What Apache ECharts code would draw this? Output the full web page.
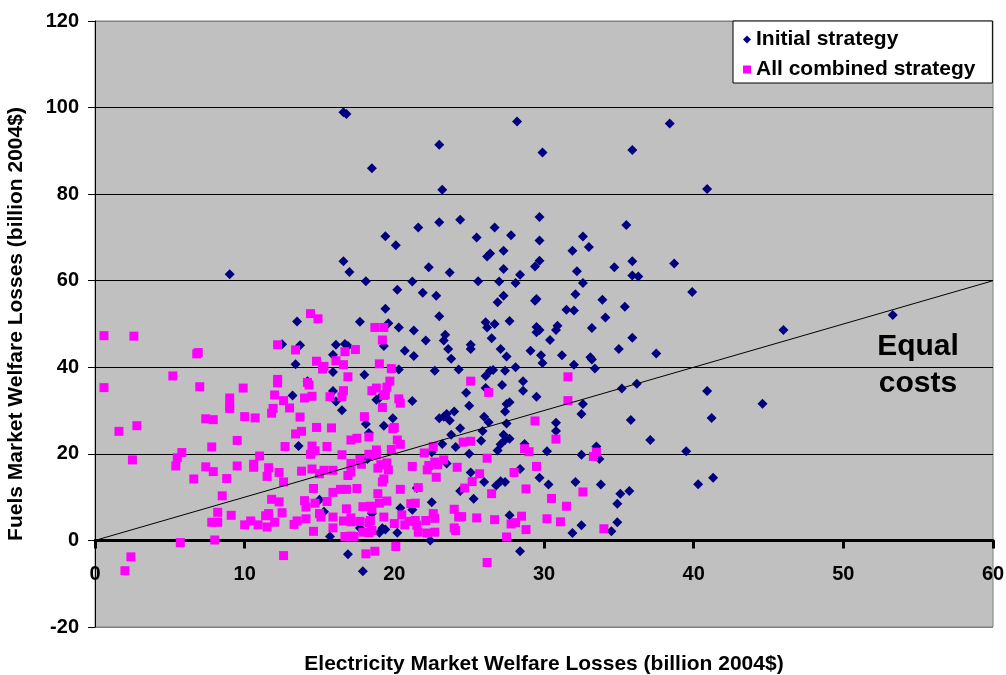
<!DOCTYPE html>
<html>
<head>
<meta charset="utf-8">
<title>Welfare losses</title>
<script src="https://cdn.jsdelivr.net/npm/echarts/dist/echarts.min.js"></script>
<style>
    html, body { margin: 0; padding: 0; background: #fff; }
    #chart { width: 1006px; height: 675px; }
</style>
</head>
<body>
<div id="chart"></div>
<script>
    // [electricity losses, fuels losses], billion 2004$
    var initialStrategy = [
        [16.6,98.9],[16.8,98.5],[18.5,86.0],[19.4,70.3],[20.1,68.2],[16.6,64.5],[17.0,62.0],[18.1,59.9],[9.0,61.5],[20.2,57.9],
        [28.2,96.8],[23.0,91.4],[29.9,89.6],[23.2,81.0],[29.7,74.7],[21.6,72.3],[23.0,73.5],[24.4,74.1],[25.5,70.0],[26.7,72.3],
        [27.8,70.5],[29.7,69.3],[27.3,66.9],[26.2,65.6],[26.4,66.3],[22.3,63.1],[23.7,61.9],[27.3,62.7],[28.4,61.4],[29.4,63.3],
        [29.7,64.6],[31.9,66.9],[32.6,70.2],[33.0,67.8],[32.2,62.2],[32.6,59.5],[21.2,59.8],[25.6,59.9],[27.0,59.8],[28.1,59.5],
        [38.4,96.3],[35.9,90.2],[40.9,81.2],[35.5,72.9],[34.7,63.1],[35.9,64.5],[38.7,64.0],[35.9,61.2],[36.3,61.0],[39.9,57.4],
        [33.9,55.6],[35.4,54.0],[34.1,51.5],[33.2,49.1],[35.9,46.8],[35.0,44.2],[37.5,43.2],[33.1,42.3],[33.2,41.8],[33.4,39.7],
        [46.0,48.6],[53.3,52.1],[36.2,36.2],[35.2,35.1],[40.9,34.5],[44.6,31.6],[32.6,31.5],[32.5,29.2],[35.8,27.8],[41.2,28.3],
        [37.1,23.2],[33.5,21.7],[33.7,18.8],[39.5,20.6],[32.5,19.8],[33.8,12.9],[40.3,13.0],[41.3,14.5],[35.1,10.8],[35.7,11.4],
        [34.9,8.5],[34.9,4.2],[34.5,2.1],[32.5,3.5],
        [22.8,56.5],[32.1,56.9],[27.3,56.5],[26.9,55.0],[29.4,55.4],[29.5,55.8],[23.0,51.8],[31.5,53.3],[32.0,53.1],[27.7,50.7],
        [26.1,50.4],[26.7,50.0],[26.2,49.2],[29.5,49.3],[29.7,48.6],[29.5,48.1],[30.9,49.6],[30.8,48.6],[23.4,47.5],[23.3,46.2],
        [26.5,46.7],[30.4,46.3],[25.1,45.2],[25.1,44.2],[23.6,44.2],[23.8,42.0],[27.1,44.2],[27.5,42.5],[29.1,43.8],[29.8,42.8],
        [29.9,41.0],[31.2,42.8],[32.0,40.6],[22.7,39.2],[24.3,39.5],[26.1,38.0],[26.4,39.2],[26.6,39.4],[27.4,39.2],[28.1,40.0],
        [28.6,36.8],[28.6,34.6],[29.5,33.2],[27.2,35.9],[26.1,35.2],[24.8,34.1],[25.0,31.1],[27.5,31.5],[27.7,31.9],[27.4,29.8],
        [24.0,29.8],[23.5,29.2],[23.3,28.6],[23.0,28.2],[23.7,27.7],[26.0,28.6],[26.3,27.3],[27.5,27.0],[30.8,27.2],[30.8,25.3],
        [24.4,25.9],[25.9,25.3],[25.8,23.0],[23.8,24.4],[27.3,24.4],[27.4,23.2],[27.7,23.5],[23.2,22.3],[24.1,21.6],[25.0,20.0],
        [27.1,22.2],[26.9,20.8],[28.7,22.3],[30.2,20.6],[23.5,17.8],[25.1,15.7],[28.4,16.5],[29.7,14.5],[26.0,13.5],[26.8,12.7],
        [27.1,13.7],[27.4,13.5],[30.3,12.9],[32.1,13.5],[24.4,11.4],[25.3,9.6],[22.5,8.8],[27.7,5.8],[31.9,1.7],[22.4,0.0],
        [28.4,-2.5],
        [21.9,57.2],[19.4,53.5],[13.5,50.6],[17.7,50.5],[19.6,50.2],[20.3,49.2],[21.3,48.5],[22.1,46.2],[12.5,45.3],[13.7,45.1],
        [16.1,45.2],[16.7,45.4],[16.9,44.9],[19.3,44.9],[15.9,42.9],[20.7,43.8],[21.3,42.6],[13.4,40.7],[15.9,38.9],[18.0,38.3],
        [20.3,39.5],[14.2,36.8],[13.2,33.5],[15.9,34.5],[16.1,32.1],[16.5,30.1],[18.8,32.5],[19.0,32.9],[21.2,32.2],[19.9,28.2],
        [18.1,26.9],[19.3,26.5],[18.3,24.8],[13.6,21.8],[18.2,18.8],[22.5,20.4],[21.5,12.1],[15.0,9.4],[15.3,6.6],[20.4,7.5],
        [21.2,7.1],[18.5,6.2],[19.2,2.8],[19.0,1.8],[19.4,2.5],[20.2,1.8],[17.7,2.9],[15.7,0.9],[16.9,-3.2],[17.9,-7.1]
    ];

    var combinedStrategy = [
        [0.6,47.3],[2.6,47.2],[12.2,45.2],[6.8,43.1],[6.9,43.4],[5.2,38.0],[0.6,35.3],[7.0,35.5],[9.9,35.2],[12.2,37.2],
        [12.2,36.4],[12.0,33.6],[12.6,32.3],[9.0,32.9],[9.0,30.5],[9.0,31.1],[11.9,30.5],[11.8,29.4],[7.4,28.1],[7.9,27.9],
        [10.0,28.6],[10.7,28.3],[2.8,26.5],[1.6,25.2],[9.5,23.1],[7.8,21.6],[12.7,21.7],[5.8,20.3],[5.5,19.1],[5.4,17.2],
        [2.5,18.6],[11.0,19.5],[7.4,17.0],[7.9,15.9],[9.5,17.2],[10.6,17.6],[10.6,16.9],[11.6,16.8],[11.5,14.8],[12.3,15.7],
        [6.6,14.2],[8.8,14.3],[12.6,13.5],[8.5,10.3],[11.8,9.5],[12.3,8.9],[8.2,6.5],[9.1,5.8],[12.5,6.4],[7.8,4.2],
        [8.2,4.2],[10.0,3.6],[10.4,4.5],[10.9,3.6],[11.4,5.7],[11.6,6.2],[11.5,3.1],[12.0,4.2],[5.7,-0.5],[8.0,0.1],
        [2.4,-3.8],[12.6,-3.5],[2.0,-7.0],
        [14.4,52.4],[14.9,51.2],[18.7,49.2],[19.3,49.2],[19.2,46.3],[13.4,44.0],[16.7,43.6],[17.4,44.1],[14.8,41.4],[15.3,40.2],
        [15.2,39.6],[16.1,41.5],[16.6,40.6],[19.0,40.8],[19.8,39.7],[16.9,37.8],[14.3,35.9],[14.2,36.5],[19.7,36.8],[19.5,35.4],
        [19.4,33.7],[18.5,34.6],[18.8,35.2],[16.6,34.6],[16.5,33.2],[15.7,33.2],[14.0,32.9],[14.5,33.3],[19.3,33.5],[20.3,32.7],
        [20.4,31.7],[13.0,30.6],[19.2,30.7],[13.7,28.5],[18.0,28.6],[14.8,26.1],[15.8,26.0],[13.8,25.2],[13.4,24.6],[20.0,26.1],
        [19.9,25.8],[17.1,23.2],[17.5,23.6],[18.3,23.9],[20.2,23.2],[20.4,22.2],[14.5,21.8],[14.7,20.7],[14.4,19.9],[15.5,21.7],
        [16.5,19.8],[18.3,19.9],[18.8,20.9],[18.8,19.8],[19.8,21.0],[22.0,20.2],[22.6,21.7],[17.1,17.8],[17.7,18.7],[17.8,17.6],
        [18.9,16.7],[19.1,17.5],[19.5,17.9],[19.6,16.3],[21.2,17.1],[13.8,16.0],[14.5,16.5],[15.3,16.2],[15.9,16.2],[15.0,15.4],
        [16.9,15.0],[17.1,15.8],[22.3,17.3],[22.2,16.3],[22.8,14.6],[19.3,14.2],[19.2,13.5],[17.5,12.0],[16.8,11.8],[16.4,11.8],
        [15.9,11.1],[14.6,12.0],[18.9,10.8],[20.4,11.8],[21.6,12.2],[14.0,9.2],[14.1,7.7],[14.7,8.6],[15.5,9.0],[16.8,7.3],
        [17.9,7.8],[18.4,7.9],[18.5,7.2],[19.0,8.6],[19.5,9.1],[21.1,8.5],[21.4,8.6],[22.6,6.2],[15.0,6.2],[15.1,5.4],
        [13.5,4.5],[13.3,3.7],[14.1,5.0],[15.9,5.4],[16.6,4.5],[17.1,5.2],[17.1,4.3],[17.7,4.4],[18.4,4.6],[18.3,4.1],
        [19.3,5.4],[20.0,3.9],[20.5,5.9],[20.7,3.6],[21.0,4.4],[21.4,4.6],[21.5,3.5],[22.1,4.6],[22.2,1.7],[21.6,1.9],
        [22.7,1.9],[14.6,2.1],[15.9,2.9],[16.7,0.9],[17.1,1.0],[17.3,0.9],[17.9,1.9],[18.3,1.8],[18.5,2.3],[20.1,-1.4],
        [18.1,-3.1],[18.7,-2.5],
        [25.1,36.8],[26.3,34.2],[31.6,37.8],[31.6,32.3],[29.4,27.6],[30.8,23.4],[24.6,22.7],[25.1,22.9],[28.7,21.2],[29.0,20.5],
        [26.2,19.0],[22.7,18.1],[22.9,17.5],[23.3,18.6],[24.2,16.9],[29.5,17.1],[25.7,15.4],[25.2,13.6],[24.7,12.1],[28.0,15.7],
        [26.5,10.8],[28.8,11.9],[30.5,9.7],[31.5,7.9],[32.6,11.2],[24.0,7.2],[22.7,5.1],[24.3,5.4],[24.5,5.5],[25.5,5.2],
        [26.7,4.8],[28.5,5.6],[27.8,3.8],[28.1,4.1],[28.8,2.5],[30.2,5.0],[31.1,4.3],[24.0,2.9],[24.1,2.3],[27.5,0.8],
        [26.2,-5.1],[33.5,20.4],[33.3,19.4],[34.0,2.7]
    ];

    // equal costs reference line (y = x)
    var equalCosts = [[0, 0], [60, 60]];

    var seriesNames = ['Initial strategy', 'All combined strategy'];
    var xTicks = {min: 0, max: 60, interval: 10};
    var yTicks = {min: -20, max: 120, interval: 20};

    var font = "'Liberation Sans', Arial, sans-serif";

    // plot box in pixels
    var gridTop = 21, gridBottom = 48, chartHeight = 675;
    var plotHeight = chartHeight - gridTop - gridBottom;
    // move the x axis up from the bottom edge to the y = 0 line (Excel "crosses at 0")
    var xAxisOffset = -plotHeight * (0 - yTicks.min) / (yTicks.max - yTicks.min);

    var chart = echarts.init(document.getElementById('chart'), null, {renderer: 'canvas'});

    var option = {
        backgroundColor: '#ffffff',
        animation: false,
        textStyle: {fontFamily: font},
        grid: {
            left: 95,
            right: 13,
            top: gridTop,
            bottom: gridBottom,
            containLabel: false,
            outerBoundsMode: 'none',
            show: true,
            backgroundColor: '#c0c0c0',
            borderColor: '#808080',
            borderWidth: 1
        },
        legend: {
            data: seriesNames,
            orient: 'vertical',
            left: 733,
            top: 21,
            padding: [8, 17, 3, 10],
            itemGap: 9,
            itemWidth: 8,
            itemHeight: 8,
            backgroundColor: '#ffffff',
            borderColor: '#000000',
            borderWidth: 1,
            borderRadius: 0,
            textStyle: {fontFamily: font, fontWeight: 'bold', fontSize: 21, color: '#000'}
        },
        xAxis: {
            type: 'value',
            min: xTicks.min,
            max: xTicks.max,
            interval: xTicks.interval,
            position: 'bottom',
            offset: xAxisOffset,
            name: 'Electricity Market Welfare Losses (billion 2004$)',
            nameLocation: 'middle',
            nameGap: 113,
            nameTextStyle: {fontFamily: font, fontWeight: 'bold', fontSize: 21, color: '#000'},
            axisLine: {show: true, onZero: false, lineStyle: {color: '#000', width: 3}},
            axisTick: {show: true, length: 8, lineStyle: {color: '#000', width: 3}},
            axisLabel: {fontFamily: font, fontWeight: 'bold', fontSize: 20, color: '#000', margin: 24},
            splitLine: {show: false}
        },
        yAxis: {
            type: 'value',
            min: yTicks.min,
            max: yTicks.max,
            interval: yTicks.interval,
            name: 'Fuels Market Welfare Losses (billion 2004$)',
            nameLocation: 'middle',
            nameGap: 68,
            nameTextStyle: {fontFamily: font, fontWeight: 'bold', fontSize: 21, color: '#000'},
            axisLine: {show: true, onZero: false, lineStyle: {color: '#000', width: 1}},
            axisTick: {show: true, length: 7, lineStyle: {color: '#000', width: 1}},
            axisLabel: {fontFamily: font, fontWeight: 'bold', fontSize: 20, color: '#000', margin: 16},
            splitLine: {
                show: true,
                lineStyle: {
                    color: ['#808080', '#000', '#000', '#000', '#000', '#000', '#000', '#808080'],
                    width: 1
                }
            }
        },
        graphic: [
            {
                type: 'text',
                z: 100,
                style: {
                    x: 918,
                    y: 328,
                    text: 'Equal\ncosts',
                    textAlign: 'center',
                    textVerticalAlign: 'top',
                    font: 'bold 30px ' + font,
                    lineHeight: 37,
                    fill: '#000'
                }
            }
        ],
        series: [
            {
                name: seriesNames[0],
                type: 'scatter',
                symbol: 'diamond',
                symbolSize: 10,
                itemStyle: {color: '#000080', opacity: 1},
                data: initialStrategy,
                z: 2
            },
            {
                name: seriesNames[1],
                type: 'scatter',
                symbol: 'rect',
                symbolSize: 9,
                itemStyle: {color: '#ff00ff', opacity: 1},
                data: combinedStrategy,
                z: 3
            },
            {
                name: 'Equal costs',
                type: 'line',
                data: equalCosts,
                symbol: 'none',
                silent: true,
                lineStyle: {color: '#000', width: 1},
                z: 4
            }
        ]
    };

    chart.setOption(option);
    window.addEventListener('resize', function () {
        chart.resize();
    });
</script>
</body>
</html>
